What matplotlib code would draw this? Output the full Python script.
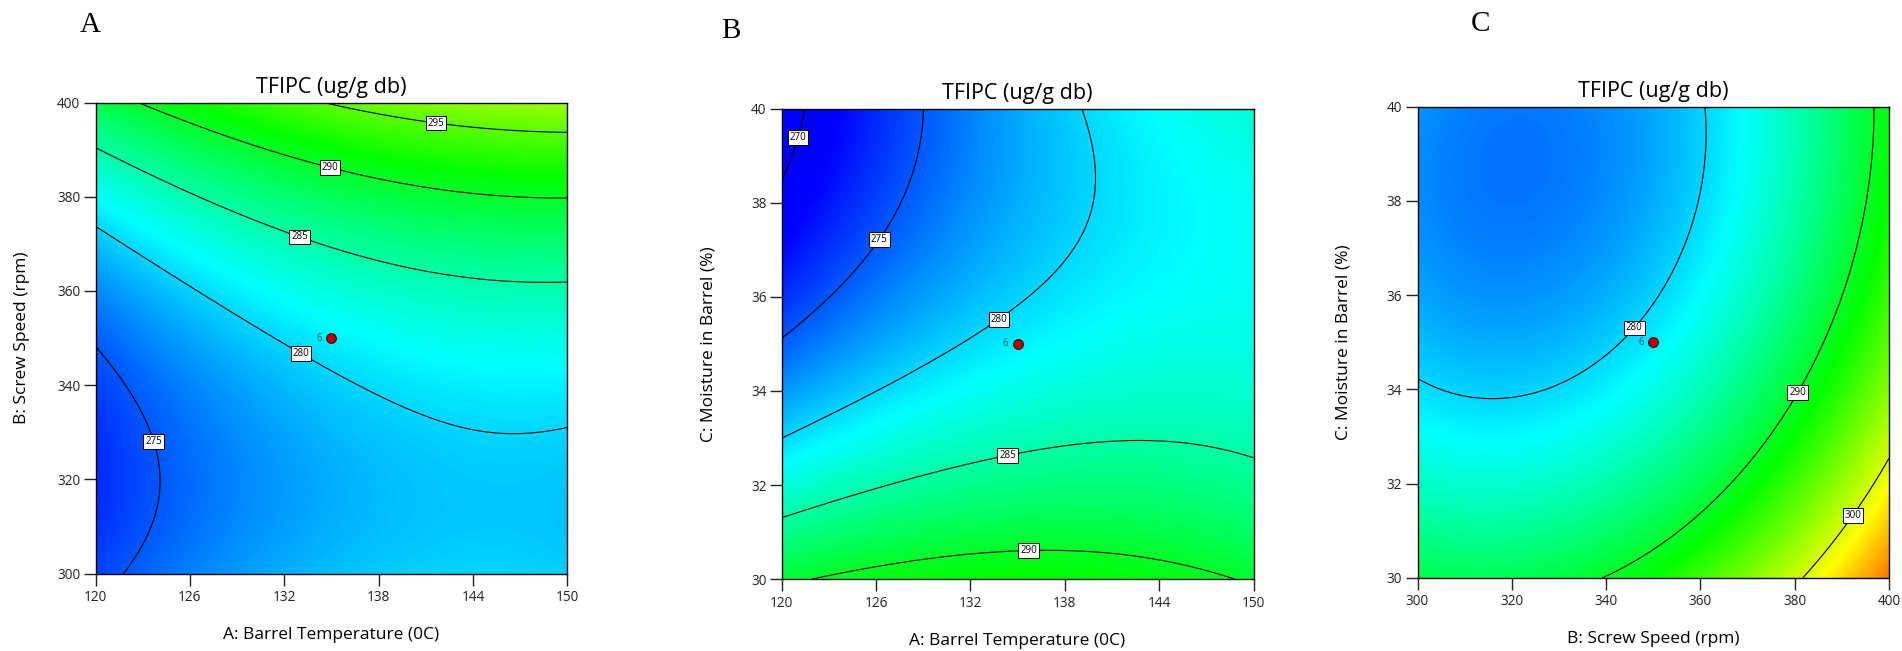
import numpy as np
import matplotlib
matplotlib.use('Agg')
import matplotlib.pyplot as plt
from matplotlib.colors import LinearSegmentedColormap

# quadratic response model in coded units, estimated from the contour lines
# order: b0, A, B, C, AB, AC, BC, A^2, B^2, C^2
terms = ['b0', 'A', 'B', 'C', 'AB', 'AC', 'BC', 'A2', 'B2', 'C2']
coef = [281.0, 3.64, 8.05, -6.75, 0.91, 3.54, -1.16, -2.12, 6.10, 3.95]

temp_range = (120, 150)      # A: Barrel Temperature
speed_range = (300, 400)     # B: Screw Speed
moist_range = (30, 40)       # C: Moisture in Barrel

temp_ticks = [120, 126, 132, 138, 144, 150]
speed_ticks = [300, 320, 340, 360, 380, 400]
moist_ticks = [30, 32, 34, 36, 38, 40]

levels_A = [275, 280, 285, 290, 295]
levels_B = [270, 275, 280, 285, 290]
levels_C = [280, 290, 300]

# label spots (data units) for the contour labels
labpos_A = [(123.7, 328.1), (133.2, 347.5), (133.1, 372.6), (135.0, 387.4), (141.7, 396.7)]
labpos_B = [(121.0, 39.4), (126.0, 37.27), (133.6, 35.63), (134.3, 32.76), (135.7, 30.73)]
labpos_C = [(345.2, 35.37), (380.0, 33.96), (391.8, 31.37)]

center_runs = 6


def model(a, b, c):
    t = [1, a, b, c, a*b, a*c, b*c, a*a, b*b, c*c]
    return sum(k*v for k, v in zip(coef, t))


def code(x, r):
    return (x - (r[0] + r[1]) / 2) / ((r[1] - r[0]) / 2)


cmap = LinearSegmentedColormap.from_list('de', ['#0000ff', '#00ffff', '#00ff00', '#ffff00', '#ff0000'])
plt.rcParams['font.family'] = ['Open Sans', 'DejaVu Sans']

W, H = 1902, 651
fig = plt.figure(figsize=(W / 100, H / 100), dpi=100)

# axes boxes in pixels: left, top, right, bottom
panels = [
    ('A', (95.5, 102.5, 567.3, 573.7), temp_range, speed_range, temp_ticks, speed_ticks,
     lambda x, y: model(code(x, temp_range), code(y, speed_range), 0),
     'A: Barrel Temperature (0C)', 'B: Screw Speed (rpm)', levels_A, labpos_A,
     (89.8, 24.9), 22.4, 635),
    ('B', (781.6, 108.8, 1253.5, 579.1), temp_range, moist_range, temp_ticks, moist_ticks,
     lambda x, y: model(code(x, temp_range), 0, code(y, moist_range)),
     'A: Barrel Temperature (0C)', 'C: Moisture in Barrel (%)', levels_B, labpos_B,
     (730.6, 31.1), 708.6, 641.3),
    ('C', (1417.5, 106.7, 1889, 577.8), speed_range, moist_range, speed_ticks, moist_ticks,
     lambda x, y: model(0, code(x, speed_range), code(y, moist_range)),
     'B: Screw Speed (rpm)', 'C: Moisture in Barrel (%)', levels_C, labpos_C,
     (1480.4, 24.1), 1343.6, 639.3),
]

for name, box, xr, yr, xt, yt, f, xl, yl, lev, lpos, letter, ylx, xly in panels:
    l, t, r, b = box
    ax = fig.add_axes([l / W, 1 - b / H, (r - l) / W, (b - t) / H])
    xs = np.linspace(xr[0], xr[1], 400)
    ys = np.linspace(yr[0], yr[1], 400)
    X, Y = np.meshgrid(xs, ys)
    Z = f(X, Y)
    ax.imshow(Z, extent=[xr[0], xr[1], yr[0], yr[1]], origin='lower', aspect='auto',
              cmap=cmap, vmin=271.5, vmax=311.5, interpolation='bilinear')
    cs = ax.contour(X, Y, Z, levels=lev, colors='black', linewidths=0.8)
    labels = ax.clabel(cs, manual=lpos, inline=False, fmt='%d', fontsize=7)
    for txt in labels:
        txt.set_rotation(0)
        txt.set_bbox(dict(boxstyle='square,pad=0.2', fc='white', ec='black', lw=0.7))

    cx, cy = (xr[0] + xr[1]) / 2, (yr[0] + yr[1]) / 2
    ax.plot([cx], [cy], 'o', ms=7, mfc='#c00000', mec='#400000', mew=0.8)
    ax.annotate(str(center_runs), (cx, cy), xytext=(-7, 0), textcoords='offset points',
                ha='right', va='center', fontsize=7, color='#215c6b')

    ax.set_xlim(xr)
    ax.set_ylim(yr)
    ax.set_xticks(xt)
    ax.set_yticks(yt)
    ax.tick_params(direction='out', length=8.5, width=1, labelsize=9.8, colors='#222222')
    ax.tick_params(axis='y', pad=2.4)
    ax.tick_params(axis='x', pad=3.5)
    for s in ax.spines.values():
        s.set_linewidth(1)
        s.set_color('black')

    ax.text(0.5, 1 + 15.5 / (b - t), 'TFIPC (ug/g db)', transform=ax.transAxes,
            ha='center', va='center', fontsize=15.5)
    ax.set_xlabel(xl, fontsize=12.5)
    ax.set_ylabel(yl, fontsize=12.5)
    ax.xaxis.set_label_coords(0.5, -(xly - b) / (b - t))
    ax.yaxis.set_label_coords((ylx - l) / (r - l), 0.5)
    ax.xaxis.label.set_va('center')
    ax.yaxis.label.set_va('center')

    fig.text(letter[0] / W, 1 - letter[1] / H, name, ha='center', va='center',
             fontsize=21, family='Liberation Serif')

fig.savefig('out.png')
